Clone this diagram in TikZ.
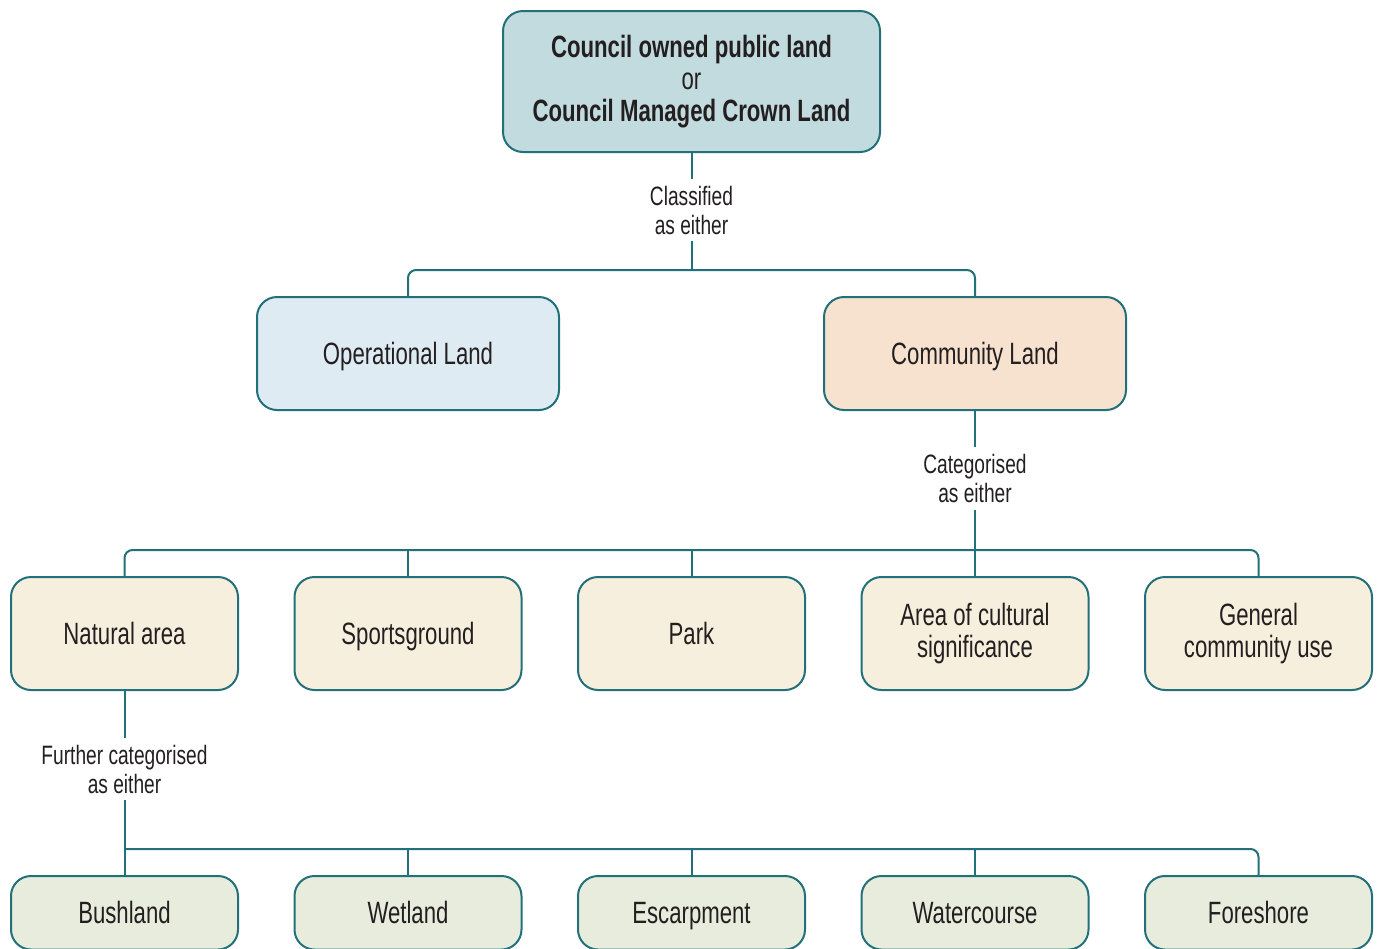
\documentclass[tikz,border=0pt]{standalone}
\usepackage{fontspec}
\setmainfont{Liberation Sans}[FakeStretch=0.72]
\usetikzlibrary{positioning}
\definecolor{linec}{HTML}{21707A}
\definecolor{textc}{HTML}{231F20}
\definecolor{topfill}{HTML}{C2DBDF}
\definecolor{operfill}{HTML}{DFEBF3}
\definecolor{commfill}{HTML}{F6E2CF}
\definecolor{catfill}{HTML}{F7EFDE}
\definecolor{subfill}{HTML}{E8ECDD}

\begin{document}
\begin{tikzpicture}[x=0.5pt,y=-0.5pt,
    box/.style={draw=linec, line width=1pt, rounded corners=10pt,
        align=center, text=textc, font=\fontsize{15.4}{16}\selectfont,
        inner sep=0pt},
    oneline/.style={text height=11pt, text depth=0pt},
    bigbox/.style={box, oneline, minimum width=151pt, minimum height=56.5pt},
    catbox/.style={box, fill=catfill, minimum width=113.5pt, minimum height=56.5pt},
    subbox/.style={box, oneline, fill=subfill, minimum width=113.5pt, minimum height=36.75pt},
    lbl/.style={align=center, text=textc, font=\fontsize{13.3}{14.5}\selectfont},
    conn/.style={draw=linec, line width=1pt}]
    \clip (0,0) rectangle (1378,949);

    % top level
    \node[box, fill=topfill, minimum width=188.5pt, minimum height=70.5pt]
        (top) at (691.5,81.5)
        {\textbf{Council owned public land}\\or\\\textbf{Council Managed Crown Land}};
    \node[lbl] (classified) at (691.5,210) {Classified\\as either};

    % classification
    \node[bigbox, fill=operfill] (oper) at (408,353.5) {Operational Land};
    \node[bigbox, fill=commfill] (comm) at (975,353.5) {Community Land};
    \node[lbl] (categorised) at (975,478.5) {Categorised\\as either};

    % categories
    \node[catbox, oneline] (natural)  at (124.5,633.5) {Natural area};
    \node[catbox, oneline] (sports)   at (408,633.5)   {Sportsground};
    \node[catbox, oneline] (park)     at (691.5,633.5) {Park};
    \node[catbox] (cultural) at (975,633.5)   {Area of cultural\\significance};
    \node[catbox] (general)  at (1258.5,633.5) {General\\community use};
    \node[lbl] (further) at (124.5,769) {Further categorised\\as either};

    % natural area types
    \node[subbox] (bush)    at (124.5,912.75)  {Bushland};
    \node[subbox] (wetland) at (408,912.75)    {Wetland};
    \node[subbox] (escarp)  at (691.5,912.75)  {Escarpment};
    \node[subbox] (water)   at (975,912.75)    {Watercourse};
    \node[subbox] (fore)    at (1258.5,912.75) {Foreshore};

    \coordinate (j1) at (691.5,270);
    \coordinate (j2) at (975,550);
    \coordinate (j3) at (691.5,849);

    \draw[conn] (top.south) -- (classified);
    \draw[conn] (classified) -- (j1);
    \draw[conn, rounded corners=4pt] (oper.north) |- (j1) -| (comm.north);

    \draw[conn] (comm) -- (categorised);
    \draw[conn] (categorised) -- (cultural);
    \draw[conn, rounded corners=4pt] (natural.north) |- (j2) -| (general.north);
    \draw[conn] (sports.north) -- (sports.north |- j2);
    \draw[conn] (park.north) -- (park.north |- j2);

    \draw[conn] (natural) -- (further);
    \draw[conn] (further) -- (bush);
    \draw[conn, rounded corners=4pt] (bush.north |- j3) -| (fore.north);
    \draw[conn] (wetland.north) -- (wetland.north |- j3);
    \draw[conn] (escarp.north) -- (escarp.north |- j3);
    \draw[conn] (water.north) -- (water.north |- j3);

\end{tikzpicture}
\end{document}
